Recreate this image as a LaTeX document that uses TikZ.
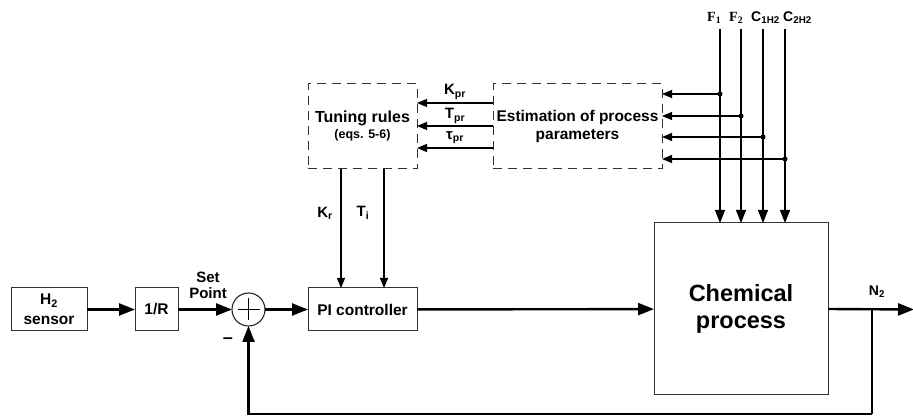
\documentclass[tikz,border=0pt]{standalone}
\usepackage{fontspec}
\setmainfont{Liberation Sans}
\newfontfamily\serifb{Liberation Serif}
\usetikzlibrary{arrows.meta,calc}
\newcommand{\fs}[1]{\fontsize{#1}{#1}\selectfont}
\begin{document}
\begin{tikzpicture}[x=1pt,y=-1pt,
  blk/.style={draw=black!80, line width=1pt, inner sep=0pt, outer sep=0pt, align=center, font=\bfseries\fontsize{15.5}{20}\selectfont},
  dbox/.style={draw=black!80, line width=1pt, dash pattern=on 9pt off 6pt, inner sep=0pt, outer sep=0pt, align=center},
  main/.style={line width=2.4pt, -{Triangle[length=16pt,width=12pt]}},
  inp/.style={line width=1.4pt, -{Triangle[length=13pt,width=10pt]}},
  sig/.style={line width=1.1pt, -{Triangle[length=10pt,width=8pt]}},
  lbl/.style={font=\bfseries\fs{15}, inner sep=0pt, align=center},
  dot/.style={circle, fill=black, inner sep=0pt, minimum size=5pt}
]
\useasboundingbox (0,0) rectangle (913,419);

% blocks
\node[blk, minimum width=76, minimum height=43] (sensor) at (49,309.5) {H\textsubscript{2}\\sensor};
\node[blk, minimum width=43, minimum height=43] (rr) at (156.5,309.5) {1/R};
\node[draw=black!85, line width=1.1pt, circle, minimum size=33, inner sep=0pt, outer sep=0pt] (sum) at (248.5,309.5) {};
\draw[line width=0.9pt] ($(sum.center)+(-11,0)$) -- ($(sum.center)+(11,0)$);
\draw[line width=0.9pt] ($(sum.center)+(0,-11)$) -- ($(sum.center)+(0,11)$);
\node[blk, minimum width=109, minimum height=43] (pi) at (362.5,309.5) {PI controller};
\node[blk, minimum width=174, minimum height=172, font=\bfseries\fontsize{23.5}{27}\selectfont] (chem) at (741,309) {Chemical\\process};

\node[dbox, minimum width=109, minimum height=85, font=\bfseries\fontsize{16}{16}\selectfont] (tun) at (362.5,126.5) {Tuning rules\\[0pt]{\fs{12.5}(eqs. 5-6)}};
\node[dbox, minimum width=169, minimum height=85, font=\bfseries\fontsize{15.5}{18}\selectfont] (est) at (577.5,126.5) {Estimation of process\\parameters};

% main signal path
\draw[main] (sensor) -- (rr);
\draw[main] (rr) -- (sum);
\draw[main] (sum) -- (pi);
\draw[main] (pi) -- (chem);
\coordinate (out) at (914,309.5);
\coordinate (fb) at (872,309.5);
\coordinate (fbb) at (872,414);
\draw[main] (chem.east) -- (out);
\draw[line width=2.4pt] (fb) -- (fbb);
\draw[main] (fbb) -| (sum.south);

\node[lbl, font=\bfseries\fontsize{15}{16}\selectfont] (sp) at (208,285) {Set\\Point};
\node[font=\bfseries\fs{18}, inner sep=0pt] (minus) at (228,341) {–};
\node[lbl, font=\bfseries\fs{14}] (n2) at (877,292) {N\textsubscript{2}};

% tuning -> PI
\coordinate (krx) at (341,0);
\coordinate (tix) at (384,0);
\draw[sig] (tun.south -| krx) -- (pi.north -| krx);
\draw[sig] (tun.south -| tix) -- (pi.north -| tix);
\node[lbl] (kr) at (325,213) {K\textsubscript{r}};
\node[lbl] (ti) at (363,213) {T\textsubscript{i}};

% estimation -> tuning
\coordinate (y1) at (0,103);
\coordinate (y2) at (0,126);
\coordinate (y3) at (0,148);
\draw[sig] (est.west |- y1) -- (tun.east |- y1);
\draw[sig] (est.west |- y2) -- (tun.east |- y2);
\draw[sig] (est.west |- y3) -- (tun.east |- y3);
\node[lbl] (kpr) at (455,92) {K\textsubscript{pr}};
\node[lbl] (tpr) at (455,116) {T\textsubscript{pr}};
\node[lbl] (taupr) at (455,138) {τ\textsubscript{pr}};

% process inputs
\coordinate (f1) at (720,29);
\coordinate (f2) at (741,29);
\coordinate (c1) at (763,29);
\coordinate (c2) at (785,29);
\foreach \c in {f1,f2,c1,c2}{\draw[inp] (\c) -- (chem.north -| \c);}
\node[dot] (d1) at (720,94) {};
\node[dot] (d2) at (741,116) {};
\node[dot] (d3) at (763,137) {};
\node[dot] (d4) at (785,159) {};
\foreach \d in {d1,d2,d3,d4}{\draw[sig] (\d.center) -- (est.east |- \d);}
\node[font=\serifb\bfseries\fs{14}, inner sep=0pt, anchor=west] (lf1) at (707,18) {F\textsubscript{1}};
\node[font=\serifb\bfseries\fs{14}, inner sep=0pt, anchor=west] (lf2) at (729,18) {F\textsubscript{2}};
\node[lbl, font=\bfseries\fs{14}, anchor=west] (lc1) at (751,18) {C\textsubscript{1H2}};
\node[lbl, font=\bfseries\fs{14}, anchor=west] (lc2) at (783,18) {C\textsubscript{2H2}};
\end{tikzpicture}
\end{document}
